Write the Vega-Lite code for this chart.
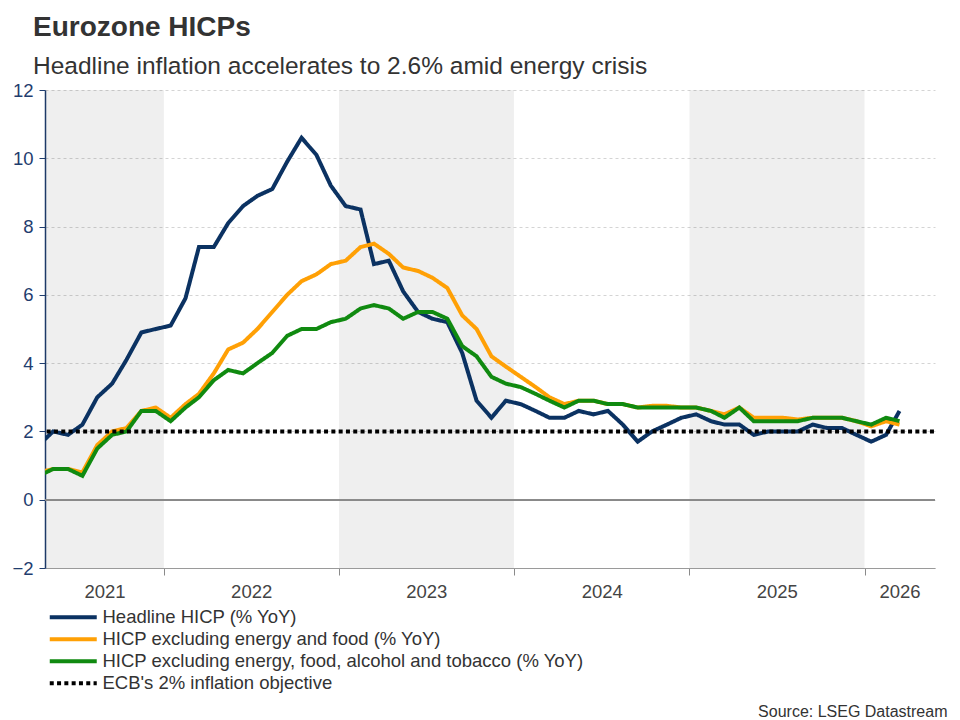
{
  "$schema": "https://vega.github.io/schema/vega-lite/v6.json",
  "width": 890,
  "height": 478,
  "autosize": "none",
  "padding": {"left": 45, "top": 90, "right": 25, "bottom": 152},
  "background": "#ffffff",
  "config": {
    "view": {"stroke": null},
    "font": "Liberation Sans",
    "legend": {"labelFont": "Liberation Sans"}
  },
  "title": {
    "text": "Eurozone HICPs",
    "subtitle": "Headline inflation accelerates to 2.6% amid energy crisis",
    "anchor": "start",
    "frame": "group",
    "dx": -12,
    "offset": 3,
    "font": "Liberation Sans",
    "fontSize": 28,
    "fontWeight": "bold",
    "color": "#333333",
    "subtitleFont": "Liberation Sans",
    "subtitleFontSize": 24.5,
    "subtitleColor": "#333333",
    "subtitlePadding": 13
  },
  "datasets": {
    "bands": [
      {"start": "2021-01-01", "end": "2022-01-01"},
      {"start": "2023-01-01", "end": "2024-01-01"},
      {"start": "2025-01-01", "end": "2026-01-01"}
    ],
    "hicp": [
      {"date": "2021-04-15", "Headline": 1.6, "exEF": 0.8, "exEFAT": 0.7},
      {"date": "2021-05-15", "Headline": 2.0, "exEF": 0.9, "exEFAT": 0.9},
      {"date": "2021-06-15", "Headline": 1.9, "exEF": 0.9, "exEFAT": 0.9},
      {"date": "2021-07-15", "Headline": 2.2, "exEF": 0.8, "exEFAT": 0.7},
      {"date": "2021-08-15", "Headline": 3.0, "exEF": 1.6, "exEFAT": 1.5},
      {"date": "2021-09-15", "Headline": 3.4, "exEF": 2.0, "exEFAT": 1.9},
      {"date": "2021-10-15", "Headline": 4.1, "exEF": 2.1, "exEFAT": 2.0},
      {"date": "2021-11-15", "Headline": 4.9, "exEF": 2.6, "exEFAT": 2.6},
      {"date": "2021-12-15", "Headline": 5.0, "exEF": 2.7, "exEFAT": 2.6},
      {"date": "2022-01-15", "Headline": 5.1, "exEF": 2.4, "exEFAT": 2.3},
      {"date": "2022-02-15", "Headline": 5.9, "exEF": 2.8, "exEFAT": 2.7},
      {"date": "2022-03-15", "Headline": 7.4, "exEF": 3.1, "exEFAT": 3.0},
      {"date": "2022-04-15", "Headline": 7.4, "exEF": 3.7, "exEFAT": 3.5},
      {"date": "2022-05-15", "Headline": 8.1, "exEF": 4.4, "exEFAT": 3.8},
      {"date": "2022-06-15", "Headline": 8.6, "exEF": 4.6, "exEFAT": 3.7},
      {"date": "2022-07-15", "Headline": 8.9, "exEF": 5.0, "exEFAT": 4.0},
      {"date": "2022-08-15", "Headline": 9.1, "exEF": 5.5, "exEFAT": 4.3},
      {"date": "2022-09-15", "Headline": 9.9, "exEF": 6.0, "exEFAT": 4.8},
      {"date": "2022-10-15", "Headline": 10.6, "exEF": 6.4, "exEFAT": 5.0},
      {"date": "2022-11-15", "Headline": 10.1, "exEF": 6.6, "exEFAT": 5.0},
      {"date": "2022-12-15", "Headline": 9.2, "exEF": 6.9, "exEFAT": 5.2},
      {"date": "2023-01-15", "Headline": 8.6, "exEF": 7.0, "exEFAT": 5.3},
      {"date": "2023-02-15", "Headline": 8.5, "exEF": 7.4, "exEFAT": 5.6},
      {"date": "2023-03-15", "Headline": 6.9, "exEF": 7.5, "exEFAT": 5.7},
      {"date": "2023-04-15", "Headline": 7.0, "exEF": 7.2, "exEFAT": 5.6},
      {"date": "2023-05-15", "Headline": 6.1, "exEF": 6.8, "exEFAT": 5.3},
      {"date": "2023-06-15", "Headline": 5.5, "exEF": 6.7, "exEFAT": 5.5},
      {"date": "2023-07-15", "Headline": 5.3, "exEF": 6.5, "exEFAT": 5.5},
      {"date": "2023-08-15", "Headline": 5.2, "exEF": 6.2, "exEFAT": 5.3},
      {"date": "2023-09-15", "Headline": 4.3, "exEF": 5.4, "exEFAT": 4.5},
      {"date": "2023-10-15", "Headline": 2.9, "exEF": 5.0, "exEFAT": 4.2},
      {"date": "2023-11-15", "Headline": 2.4, "exEF": 4.2, "exEFAT": 3.6},
      {"date": "2023-12-15", "Headline": 2.9, "exEF": 3.9, "exEFAT": 3.4},
      {"date": "2024-01-15", "Headline": 2.8, "exEF": 3.6, "exEFAT": 3.3},
      {"date": "2024-02-15", "Headline": 2.6, "exEF": 3.3, "exEFAT": 3.1},
      {"date": "2024-03-15", "Headline": 2.4, "exEF": 3.0, "exEFAT": 2.9},
      {"date": "2024-04-15", "Headline": 2.4, "exEF": 2.8, "exEFAT": 2.7},
      {"date": "2024-05-15", "Headline": 2.6, "exEF": 2.9, "exEFAT": 2.9},
      {"date": "2024-06-15", "Headline": 2.5, "exEF": 2.9, "exEFAT": 2.9},
      {"date": "2024-07-15", "Headline": 2.6, "exEF": 2.8, "exEFAT": 2.8},
      {"date": "2024-08-15", "Headline": 2.2, "exEF": 2.8, "exEFAT": 2.8},
      {"date": "2024-09-15", "Headline": 1.7, "exEF": 2.7, "exEFAT": 2.7},
      {"date": "2024-10-15", "Headline": 2.0, "exEF": 2.75, "exEFAT": 2.7},
      {"date": "2024-11-15", "Headline": 2.2, "exEF": 2.75, "exEFAT": 2.7},
      {"date": "2024-12-15", "Headline": 2.4, "exEF": 2.7, "exEFAT": 2.7},
      {"date": "2025-01-15", "Headline": 2.5, "exEF": 2.7, "exEFAT": 2.7},
      {"date": "2025-02-15", "Headline": 2.3, "exEF": 2.6, "exEFAT": 2.6},
      {"date": "2025-03-15", "Headline": 2.2, "exEF": 2.5, "exEFAT": 2.4},
      {"date": "2025-04-15", "Headline": 2.2, "exEF": 2.7, "exEFAT": 2.7},
      {"date": "2025-05-15", "Headline": 1.9, "exEF": 2.4, "exEFAT": 2.3},
      {"date": "2025-06-15", "Headline": 2.0, "exEF": 2.4, "exEFAT": 2.3},
      {"date": "2025-07-15", "Headline": 2.0, "exEF": 2.4, "exEFAT": 2.3},
      {"date": "2025-08-15", "Headline": 2.0, "exEF": 2.35, "exEFAT": 2.3},
      {"date": "2025-09-15", "Headline": 2.2, "exEF": 2.4, "exEFAT": 2.4},
      {"date": "2025-10-15", "Headline": 2.1, "exEF": 2.4, "exEFAT": 2.4},
      {"date": "2025-11-15", "Headline": 2.1, "exEF": 2.4, "exEFAT": 2.4},
      {"date": "2025-12-15", "Headline": 1.9, "exEF": 2.3, "exEFAT": 2.3},
      {"date": "2026-01-15", "Headline": 1.7, "exEF": 2.15, "exEFAT": 2.2},
      {"date": "2026-02-15", "Headline": 1.9, "exEF": 2.3, "exEFAT": 2.4},
      {"date": "2026-03-15", "Headline": 2.6, "exEF": 2.2, "exEFAT": 2.3}
    ],
    "target": [
      {"date": "2021-04-01", "series": "ECB", "value": 2},
      {"date": "2026-06-01", "series": "ECB", "value": 2}
    ]
  },
  "layer": [
    {
      "data": {"name": "bands"},
      "mark": {"type": "rect", "color": "#000000", "opacity": 0.063, "clip": true},
      "encoding": {
        "x": {
          "field": "start",
          "type": "temporal",
          "scale": {"domain": [{"year": 2021, "month": 4, "date": 28}, {"year": 2026, "month": 5, "date": 28}]},
          "axis": {
            "orient": "bottom",
            "values": [
              {"year": 2022, "month": 1, "date": 1},
              {"year": 2023, "month": 1, "date": 1},
              {"year": 2024, "month": 1, "date": 1},
              {"year": 2025, "month": 1, "date": 1},
              {"year": 2026, "month": 1, "date": 1}
            ],
            "labels": false,
            "grid": false,
            "ticks": true,
            "tickSize": 7,
            "tickColor": "#8a8a8a",
            "domainColor": "#9a9a9a",
            "title": null
          }
        },
        "x2": {"field": "end"}
      }
    },
    {
      "data": {"name": "hicp"},
      "mark": {"type": "rule", "color": "#8c8c8c", "strokeWidth": 1},
      "encoding": {"y": {"datum": 0}}
    },
    {
      "data": {"name": "hicp"},
      "transform": [
        {"fold": ["Headline", "exEF", "exEFAT"], "as": ["series", "value"]}
      ],
      "mark": {"type": "line", "strokeWidth": 4, "clip": true},
      "encoding": {
        "x": {
          "field": "date",
          "type": "temporal",
          "axis": {
            "orient": "bottom",
            "values": [
              {"year": 2021, "month": 8, "date": 30},
              {"year": 2022, "month": 7, "date": 2},
              {"year": 2023, "month": 7, "date": 2},
              {"year": 2024, "month": 7, "date": 2},
              {"year": 2025, "month": 7, "date": 2},
              {"year": 2026, "month": 3, "date": 15}
            ],
            "format": "%Y",
            "ticks": false,
            "domain": false,
            "grid": false,
            "labelFontSize": 18.5,
            "labelColor": "#444444",
            "labelPadding": 14,
            "labelFlush": false,
            "labelOverlap": false,
            "title": "Source: LSEG Datastream",
            "titleAnchor": "end",
            "titleAlign": "right",
            "titleBaseline": "alphabetic",
            "titleX": 902,
            "titleY": 148,
            "titleFontSize": 16,
            "titleFontWeight": "normal",
            "titleColor": "#333333"
          }
        },
        "y": {
          "field": "value",
          "type": "quantitative",
          "scale": {"domain": [-2, 12], "nice": false, "zero": false},
          "axis": {
            "values": [-2, 0, 2, 4, 6, 8, 10, 12],
            "grid": true,
            "gridDash": [3, 3],
            "gridColor": "#d4d4d4",
            "domainColor": "#1f3d6e",
            "domainWidth": 1.5,
            "tickColor": "#1f3d6e",
            "tickSize": 6,
            "labelColor": "#1f3d6e",
            "labelFontSize": 18.5,
            "labelPadding": 6,
            "title": null
          }
        },
        "color": {
          "field": "series",
          "type": "nominal",
          "scale": {
            "domain": ["Headline", "exEF", "exEFAT", "ECB"],
            "range": ["#0b3262", "#ffa005", "#108a10", "#000000"]
          },
          "legend": {
            "orient": "none",
            "legendX": 19,
            "legendY": 518,
            "title": null,
            "symbolType": "M-4.7,0H4.7",
            "symbolSize": 100,
            "symbolStrokeWidth": 4,
            "labelFontSize": 18.5,
            "labelColor": "#333333",
            "labelOffset": 20,
            "labelLimit": 800,
            "rowPadding": 3,
            "labelExpr": "{'Headline': 'Headline HICP (% YoY)', 'exEF': 'HICP excluding energy and food (% YoY)', 'exEFAT': 'HICP excluding energy, food, alcohol and tobacco (% YoY)', 'ECB': \"ECB's 2% inflation objective\"}[datum.label]"
          }
        },
        "strokeDash": {
          "field": "series",
          "type": "nominal",
          "scale": {
            "domain": ["Headline", "exEF", "exEFAT", "ECB"],
            "range": [[1, 0], [1, 0], [1, 0], [4, 3.3]]
          }
        }
      }
    },
    {
      "data": {"name": "target"},
      "mark": {"type": "line", "strokeWidth": 4, "clip": true},
      "encoding": {
        "x": {"field": "date", "type": "temporal", "axis": null},
        "y": {"field": "value", "type": "quantitative"},
        "color": {"field": "series", "type": "nominal"},
        "strokeDash": {"field": "series", "type": "nominal"}
      }
    }
  ],
  "resolve": {"axis": {"x": "independent"}}
}
